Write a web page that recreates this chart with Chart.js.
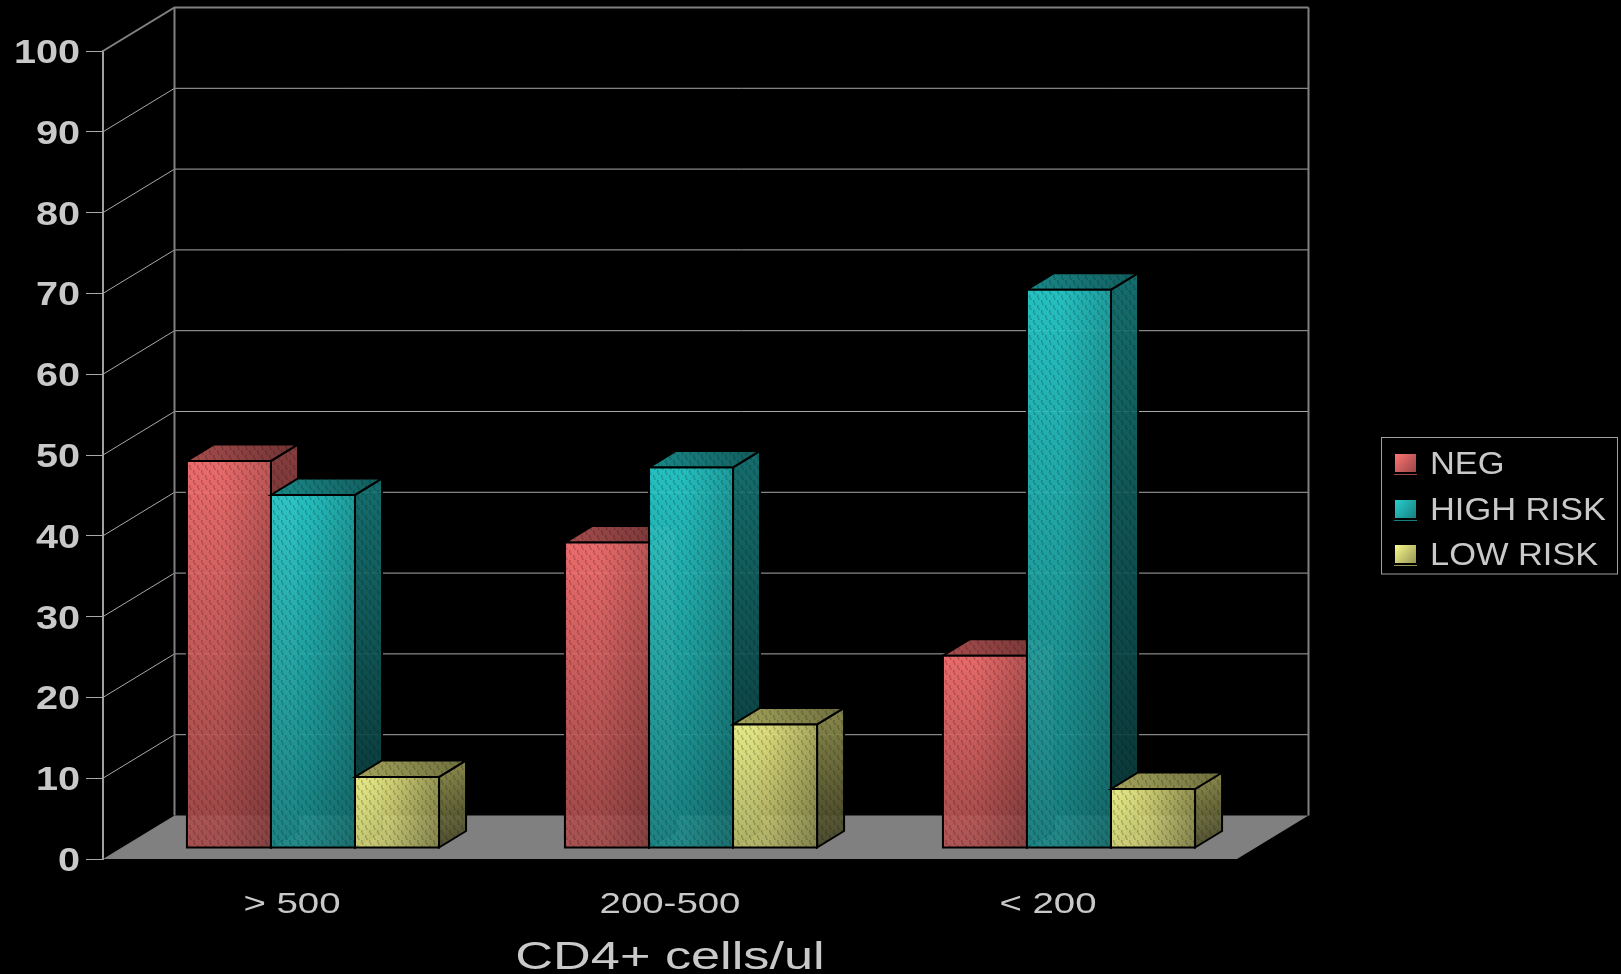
<!DOCTYPE html>
<html>
<head>
<meta charset="utf-8">
<title>CD4+ cells/ul</title>
<script src="https://cdn.jsdelivr.net/npm/chart.js@4/dist/chart.umd.js"></script>
<style>
    html, body { margin: 0; padding: 0; background: #000; overflow: hidden; }
    canvas { display: block; }
</style>
</head>
<body>
<canvas id="cd4Chart" width="1621" height="974"></canvas>
<script>
const categories = ['> 500', '200-500', '< 200'];
const negValues = [47.9, 37.8, 23.8];
const highRiskValues = [43.7, 47.1, 69.1];
const lowRiskValues = [8.8, 15.3, 7.3];

const negColor = [255, 116, 116];
const highRiskColor = [40, 208, 208];
const lowRiskColor = [250, 250, 140];

// depth of the box behind the axis plane, and of one bar
const WALL_DX = 71.5, WALL_DY = 43.5;
const BAR_DX = 27, BAR_DY = 16.5;
// bars stand a little way into the floor
const BAR_SHIFT_X = 21, BAR_SHIFT_Y = 11;
const TEXT_COLOR = '#c9c9c9';
// horizontal stretch of the axis text, by font size
const TEXT_STRETCH = { 33: 1.2, 30: 1.28, 39: 1.34 };

const shade = (rgb, f, a = 1) => `rgba(${rgb.map(c => Math.round(c * f)).join(',')},${a})`;

// slanted dark dashes laid over the bar faces
function makeStipple(ctx) {
    let tile = document.createElement('canvas');
    tile.width = 8;
    tile.height = 10;
    let t = tile.getContext('2d');
    t.fillStyle = 'rgba(0,0,0,0.2)';
    for (let i = 0; i < 5; i++) {
        t.fillRect(1 + (i > 2 ? 1 : 0), i, 1.6, 1);
        t.fillRect(5 + (i > 2 ? 1 : 0), i + 5, 1.6, 1);
    }
    return ctx.createPattern(tile, 'repeat');
}

// the library has no font stretch option, so its text calls go through here
function stretchAxisText(ctx) {
    let plain = ctx.fillText.bind(ctx);
    ctx.plainFillText = plain;
    ctx.fillText = (text, x, y) => {
        let size = parseInt(ctx.font.match(/(\d+)px/)[1]);
        ctx.save();
        ctx.translate(x, y);
        ctx.scale(TEXT_STRETCH[size] || 1, 1);
        plain(text, 0, 0);
        ctx.restore();
    };
}

function fillPoly(ctx, pts, fill, stroke) {
    ctx.beginPath();
    pts.forEach((p, i) => i ? ctx.lineTo(p[0], p[1]) : ctx.moveTo(p[0], p[1]));
    ctx.closePath();
    ctx.fillStyle = fill;
    ctx.fill();
    if (stroke) {
        ctx.strokeStyle = stroke;
        ctx.lineWidth = 2;
        ctx.stroke();
    }
}

function drawWalls(chart) {
    let ctx = chart.ctx, area = chart.chartArea, y = chart.scales.y;
    let zero = y.getPixelForValue(0);
    let backLeft = area.left + WALL_DX, backRight = area.right + WALL_DX;

    fillPoly(ctx, [[area.left, zero], [area.right, zero], [backRight, zero - WALL_DY], [backLeft, zero - WALL_DY]], '#808080');

    y.ticks.forEach((tick) => {
        let py = y.getPixelForValue(tick.value);
        let top = tick.value === 100;
        ctx.strokeStyle = top ? '#808080' : '#a8a8a8';
        ctx.lineWidth = top ? 2 : 1;
        if (tick.value > 0) {
            ctx.beginPath();
            ctx.moveTo(area.left, py);
            ctx.lineTo(backLeft, py - WALL_DY);
            ctx.lineTo(backRight, py - WALL_DY);
            ctx.stroke();
        }
    });

    ctx.strokeStyle = '#808080';
    ctx.lineWidth = 2;
    ctx.beginPath();
    ctx.moveTo(backLeft, y.getPixelForValue(100) - WALL_DY);
    ctx.lineTo(backLeft, zero - WALL_DY);
    ctx.moveTo(backRight, y.getPixelForValue(100) - WALL_DY);
    ctx.lineTo(backRight, zero - WALL_DY);
    ctx.stroke();
}

function drawBox(ctx, bar, rgb, stipple) {
    let l = bar.x - bar.width / 2 + BAR_SHIFT_X, r = bar.x + bar.width / 2 + BAR_SHIFT_X;
    let t = bar.y - BAR_SHIFT_Y, b = bar.base - BAR_SHIFT_Y;

    let side = [[r, b], [r + BAR_DX, b - BAR_DY], [r + BAR_DX, t - BAR_DY], [r, t]];
    let sideFill = ctx.createLinearGradient(r, t, r + BAR_DX, b);
    sideFill.addColorStop(0, shade(rgb, 0.56, 0.92));
    sideFill.addColorStop(1, shade(rgb, 0.26, 0.92));
    fillPoly(ctx, side, sideFill);
    fillPoly(ctx, side, stipple, '#000');

    let top = [[l, t], [r, t], [r + BAR_DX, t - BAR_DY], [l + BAR_DX, t - BAR_DY]];
    let topFill = ctx.createLinearGradient(l, t, r + BAR_DX, t - BAR_DY);
    topFill.addColorStop(0, shade(rgb, 0.66));
    topFill.addColorStop(1, shade(rgb, 0.44));
    fillPoly(ctx, top, topFill);
    fillPoly(ctx, top, stipple, '#000');

    let front = [[l, t], [r, t], [r, b], [l, b]];
    let frontFill = ctx.createLinearGradient(l, t, r, b);
    frontFill.addColorStop(0, shade(rgb, 1, 0.92));
    frontFill.addColorStop(1, shade(rgb, 0.64, 0.92));
    fillPoly(ctx, front, frontFill);
    let edgeFill = ctx.createLinearGradient(l, t, r, t);
    edgeFill.addColorStop(0.4, 'rgba(0,0,0,0)');
    edgeFill.addColorStop(1, 'rgba(0,0,0,0.18)');
    fillPoly(ctx, front, edgeFill);
    fillPoly(ctx, front, stipple, '#000');
}

function drawLegend(chart) {
    let ctx = chart.ctx;
    let rows = chart.data.datasets;
    let baselines = [474, 520, 565];

    ctx.strokeStyle = '#a0a0a0';
    ctx.lineWidth = 1;
    ctx.strokeRect(1381.5, 437.5, 236, 136.5);

    rows.forEach((ds, i) => {
        let base = baselines[i];
        let fill = ctx.createLinearGradient(1395, base - 20, 1416, base - 2);
        fill.addColorStop(0, shade(ds.faceColor, 1));
        fill.addColorStop(1, shade(ds.faceColor, 0.6));
        fillPoly(ctx, [[1395, base - 20], [1416, base - 20], [1416, base - 2], [1395, base - 2]], fill);
        fillPoly(ctx, [[1394, base], [1417, base], [1417, base + 1], [1394, base + 1]], shade(ds.faceColor, 0.6));

        ctx.save();
        ctx.translate(1430, base);
        ctx.scale(1.11, 1);
        ctx.font = '31px "Liberation Sans"';
        ctx.fillStyle = TEXT_COLOR;
        ctx.textAlign = 'left';
        ctx.textBaseline = 'alphabetic';
        ctx.plainFillText(ds.label, 0, 0);
        ctx.restore();
    });
}

let stipple = null;

const boxPlugin = {
    id: 'box3d',
    beforeInit(chart) {
        stretchAxisText(chart.ctx);
    },
    beforeDatasetsDraw(chart) {
        let ctx = chart.ctx;
        if (!stipple) stipple = makeStipple(ctx);
        drawWalls(chart);
        chart.data.datasets.forEach((ds, i) => {
            chart.getDatasetMeta(i).data.forEach((bar) => {
                drawBox(ctx, bar, ds.faceColor, stipple);
            });
        });
        return false;
    },
    afterDraw(chart) {
        drawLegend(chart);
    }
};

new Chart(document.getElementById('cd4Chart'), {
    type: 'bar',
    data: {
        labels: categories,
        datasets: [
            { label: 'NEG', data: negValues, faceColor: negColor },
            { label: 'HIGH RISK', data: highRiskValues, faceColor: highRiskColor },
            { label: 'LOW RISK', data: lowRiskValues, faceColor: lowRiskColor }
        ]
    },
    plugins: [boxPlugin],
    options: {
        responsive: false,
        animation: false,
        devicePixelRatio: 1,
        layout: { padding: { top: 51, right: 384, left: 0, bottom: 0 } },
        categoryPercentage: 0.667,
        barPercentage: 1,
        plugins: {
            legend: { display: false },
            tooltip: { enabled: false }
        },
        scales: {
            x: {
                afterFit: (scale) => { scale.height = 115; },
                grid: { display: false },
                border: { display: false },
                ticks: {
                    color: TEXT_COLOR,
                    padding: 20,
                    maxRotation: 0,
                    autoSkip: false,
                    font: { family: 'Liberation Sans', size: 30 }
                },
                title: {
                    display: true,
                    text: 'CD4+ cells/ul',
                    color: TEXT_COLOR,
                    padding: { top: 0, bottom: -8 },
                    font: { family: 'Liberation Sans', size: 39 }
                }
            },
            y: {
                min: 0,
                max: 100,
                afterFit: (scale) => { scale.width = 103; },
                grid: {
                    drawOnChartArea: false,
                    drawTicks: true,
                    tickLength: 17,
                    color: '#a8a8a8'
                },
                border: { color: '#a0a0a0', width: 2 },
                ticks: {
                    stepSize: 10,
                    color: TEXT_COLOR,
                    padding: 6,
                    labelOffset: 3,
                    font: { family: 'Liberation Sans', size: 33, weight: 'bold' }
                }
            }
        }
    }
});
</script>
</body>
</html>
